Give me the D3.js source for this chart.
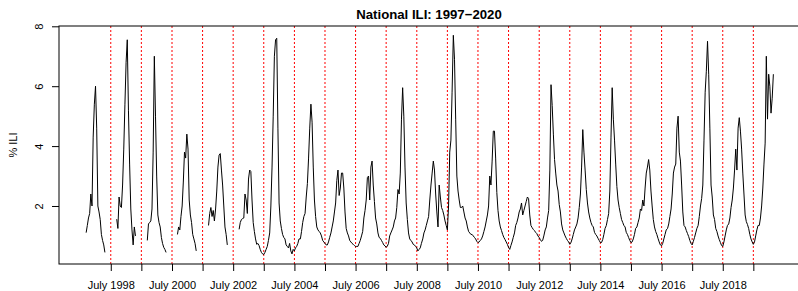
<!DOCTYPE html>
<html>
<head>
<meta charset="utf-8">
<script src="https://cdn.jsdelivr.net/npm/d3@7"></script>
<style>
  html, body { margin: 0; padding: 0; background: #fff; }
  svg { display: block; font-family: "Liberation Sans", Arial, Helvetica, sans-serif; }
</style>
</head>
<body>
<div id="chart"></div>
<script>
// Early seasons (through 2001-02) only cover the flu season, so they are
// drawn as separate pieces; from 2002-03 the series runs year round.
const seasons = ["1997-98", "1998-99", "1999-00", "2000-01", "2001-02", "2002-03",
  "2003-04", "2004-05", "2005-06", "2006-07", "2007-08", "2008-09", "2009-10",
  "2010-11", "2011-12", "2012-13", "2013-14", "2014-15", "2015-16", "2016-17",
  "2017-18", "2018-19", "2019-20"];
const seasonStart = ["1997-09-10", "1998-09-10", "1999-09-10", "2000-09-04", "2001-09-10",
  "2002-09-10", "2003-09-10", "2004-09-10", "2005-09-10", "2006-09-10", "2007-09-10",
  "2008-09-10", "2009-09-10", "2010-09-10", "2011-09-10", "2012-09-10", "2013-09-10",
  "2014-09-10", "2015-09-10", "2016-09-10", "2017-09-10", "2018-09-10", "2019-09-10"];
const firstYearRound = "2002-03";

const ili_1997_98 = [1.11, 1.35, 1.6, 1.75, 2.4, 2.0, 4.3, 5.4, 6.0, 4.6, 2.0, 1.8, 1.55, 1.05, 0.85, 0.7, 0.45];
const ili_1998_99 = [1.56, 1.25, 2.3, 2.0, 1.95, 2.7, 3.9, 5.4, 6.8, 7.55, 5.2, 3.4, 1.9, 1.2, 0.7, 1.3, 1.0];
const ili_1999_00 = [0.85, 1.4, 1.45, 1.5, 1.9, 3.8, 7.0, 5.0, 3.0, 1.7, 1.45, 1.3, 0.95, 0.75, 0.62, 0.55, 0.45];
const ili_2000_01 = [1.05, 1.3, 1.2, 1.65, 2.0, 2.8, 3.8, 3.6, 4.4, 3.9, 2.2, 1.7, 1.45, 1.05, 0.9, 0.75, 0.5];
const ili_2001_02 = [1.35, 1.75, 1.95, 1.65, 1.85, 1.5, 1.9, 2.5, 3.3, 3.7, 3.75, 3.2, 2.7, 2.0, 1.3, 1.05, 0.7];
const ili_2002_03 = [1.22, 1.45, 1.55, 1.58, 1.6, 2.4, 2.2, 1.75, 2.9, 3.2, 3.15, 2.2, 1.45, 1.15, 0.9, 0.72, 0.75, 0.68, 0.55, 0.45, 0.4, 0.38, 0.45, 0.55, 0.65, 0.85];
const ili_2003_04 = [1.1, 2.0, 3.3, 5.0, 7.0, 7.55, 7.6, 4.6, 2.1, 1.5, 1.25, 1.05, 0.95, 0.9, 0.7, 0.65, 0.6, 0.75, 0.5, 0.4, 0.55, 0.5, 0.6, 0.65, 0.75, 0.9];
const ili_2004_05 = [0.9, 1.15, 1.45, 1.65, 1.75, 2.3, 2.75, 3.6, 4.6, 5.4, 4.8, 3.3, 2.2, 1.65, 1.3, 1.2, 1.15, 1.1, 1.0, 0.85, 0.8, 0.75, 0.7, 0.7, 0.8, 0.95];
const ili_2005_06 = [1.1, 1.3, 1.5, 1.8, 2.1, 2.85, 3.2, 2.35, 2.6, 3.1, 3.1, 2.6, 1.8, 1.25, 1.1, 1.0, 0.85, 0.8, 0.75, 0.72, 0.68, 0.65, 0.65, 0.65, 0.75, 0.85];
const ili_2006_07 = [1.0, 1.15, 1.6, 1.85, 2.2, 2.95, 3.0, 2.2, 3.3, 3.5, 2.7, 2.15, 1.6, 1.4, 1.1, 0.95, 0.92, 0.85, 0.78, 0.7, 0.67, 0.62, 0.66, 0.75, 1.0, 1.1];
const ili_2007_08 = [1.2, 1.3, 1.5, 1.6, 1.95, 2.55, 2.4, 3.1, 4.9, 5.95, 5.0, 3.3, 2.1, 1.55, 1.1, 0.9, 0.85, 0.8, 0.72, 0.7, 0.65, 0.6, 0.5, 0.55, 0.6, 0.75];
const ili_2008_09 = [0.9, 1.1, 1.2, 1.35, 1.5, 1.65, 2.2, 2.7, 3.1, 3.5, 3.2, 2.4, 1.8, 1.3, 2.7, 2.3, 1.95, 1.85, 1.7, 1.5, 1.35, 1.2, 2.0, 3.8, 4.2, 5.8];
const ili_2009_10 = [7.7, 6.9, 4.9, 3.0, 2.5, 2.2, 1.95, 1.95, 2.0, 1.8, 1.6, 1.5, 1.3, 1.15, 1.1, 1.05, 1.05, 1.0, 0.95, 0.9, 0.82, 0.78, 0.8, 0.85, 0.9, 1.0];
const ili_2010_11 = [1.15, 1.3, 1.5, 1.7, 2.0, 3.0, 2.7, 3.5, 4.5, 4.5, 3.6, 2.45, 1.85, 1.5, 1.3, 1.18, 1.05, 0.95, 0.88, 0.8, 0.72, 0.62, 0.55, 0.68, 0.8, 0.95];
const ili_2011_12 = [1.1, 1.35, 1.45, 1.6, 1.8, 1.9, 2.1, 1.7, 1.85, 2.0, 2.15, 2.3, 2.25, 1.7, 1.35, 1.28, 1.22, 1.18, 1.12, 1.08, 1.0, 0.95, 0.88, 0.82, 0.85, 1.0];
const ili_2012_13 = [1.2, 1.3, 1.6, 1.85, 3.2, 6.05, 5.35, 4.4, 3.55, 3.1, 2.7, 2.5, 2.05, 1.8, 1.4, 1.2, 1.1, 1.0, 0.92, 0.85, 0.8, 0.72, 0.78, 0.9, 1.05, 1.2];
const ili_2013_14 = [1.3, 1.4, 1.6, 1.95, 2.4, 3.3, 4.55, 3.8, 3.2, 2.55, 2.1, 1.8, 1.6, 1.45, 1.35, 1.3, 1.12, 1.05, 1.0, 0.92, 0.85, 0.78, 0.78, 0.88, 1.05, 1.25];
const ili_2014_15 = [1.35, 1.55, 1.75, 2.5, 4.3, 5.95, 4.9, 4.2, 3.4, 2.65, 2.2, 1.95, 1.75, 1.55, 1.45, 1.35, 1.3, 1.12, 1.05, 0.95, 0.85, 0.78, 0.8, 0.9, 1.05, 1.25];
const ili_2015_16 = [1.3, 1.45, 1.6, 1.9, 1.85, 2.2, 2.0, 2.6, 3.1, 3.3, 3.55, 3.2, 2.5, 2.0, 1.55, 1.3, 1.15, 1.05, 0.92, 0.8, 0.7, 0.67, 0.75, 0.9, 1.05, 1.2];
const ili_2016_17 = [1.25, 1.4, 1.65, 1.9, 2.4, 3.1, 3.3, 3.4, 4.6, 5.0, 3.8, 3.5, 2.7, 1.8, 1.35, 1.3, 1.18, 1.08, 0.98, 0.85, 0.75, 0.7, 0.82, 0.95, 1.1, 1.25];
const ili_2017_18 = [1.35, 1.65, 2.0, 2.25, 2.7, 4.2, 5.8, 6.5, 7.5, 6.4, 4.6, 2.7, 2.3, 1.7, 1.55, 1.25, 1.15, 1.0, 0.88, 0.78, 0.68, 0.65, 0.8, 1.0, 1.2, 1.35];
const ili_2018_19 = [1.4, 1.6, 1.95, 2.2, 2.6, 3.2, 3.9, 3.2, 4.6, 4.95, 4.5, 3.9, 3.1, 2.4, 1.7, 1.48, 1.38, 1.25, 1.05, 0.9, 0.8, 0.72, 0.8, 1.0, 1.2, 1.35];
const ili_2019_20 = [1.35, 1.6, 2.0, 2.6, 3.4, 4.1, 7.0, 4.9, 6.4, 6.0, 5.1, 5.6, 6.4];

const seasonValues = [ili_1997_98, ili_1998_99, ili_1999_00, ili_2000_01, ili_2001_02,
  ili_2002_03, ili_2003_04, ili_2004_05, ili_2005_06, ili_2006_07, ili_2007_08,
  ili_2008_09, ili_2009_10, ili_2010_11, ili_2011_12, ili_2012_13, ili_2013_14,
  ili_2014_15, ili_2015_16, ili_2016_17, ili_2017_18, ili_2018_19, ili_2019_20];

// reference lines every July; only every other one gets a label
const julyYears = [1998, 1999, 2000, 2001, 2002, 2003, 2004, 2005, 2006, 2007, 2008,
  2009, 2010, 2011, 2012, 2013, 2014, 2015, 2016, 2017, 2018, 2019];
const labelledYears = [1998, 2000, 2002, 2004, 2006, 2008, 2010, 2012, 2014, 2016, 2018];
const yTicks = [2, 4, 6, 8];

const titleText = "National ILI: 1997\u22122020";
const yTitle = "% ILI";

// ── Layout ──
const W = 798, H = 291;
const M = { left: 59, right: 799, top: 26, bottom: 264 };

const parse = d3.timeParse("%Y-%m-%d");

const x = d3.scaleTime()
  .domain([new Date(1996, 9, 21), new Date(2020, 11, 27)])
  .range([M.left, M.right]);
const y = d3.scaleLinear()
  .domain([0.063, 8.01])
  .range([M.bottom, M.top]);

const svg = d3.select("#chart").append("svg")
  .attr("width", W)
  .attr("height", H);

// ── Build line pieces ──
const yearRoundIdx = seasons.indexOf(firstYearRound);
const pieces = [];
let yearRound = [];
seasons.forEach((s, i) => {
  const start = parse(seasonStart[i]);
  const pts = seasonValues[i].map((v, k) => ({ date: d3.timeDay.offset(start, 14 * k), value: v }));
  if (i < yearRoundIdx) pieces.push(pts);
  else yearRound = yearRound.concat(pts);
});
pieces.push(yearRound);

// clip to plot box
svg.append("clipPath").attr("id", "plotclip")
  .append("rect")
  .attr("x", M.left).attr("y", M.top)
  .attr("width", M.right - M.left).attr("height", M.bottom - M.top);

const plotG = svg.append("g").attr("clip-path", "url(#plotclip)");

// July reference lines
plotG.selectAll("line.july")
  .data(julyYears)
  .join("line")
  .attr("class", "july")
  .attr("x1", d => x(new Date(d, 6, 1)))
  .attr("x2", d => x(new Date(d, 6, 1)))
  .attr("y1", M.top)
  .attr("y2", M.bottom)
  .attr("stroke", "#ff0000")
  .attr("stroke-width", 1)
  .attr("stroke-dasharray", "2,2");

const line = d3.line()
  .x(d => x(d.date))
  .y(d => y(d.value));

plotG.selectAll("path.ili")
  .data(pieces)
  .join("path")
  .attr("class", "ili")
  .attr("d", line)
  .attr("fill", "none")
  .attr("stroke", "#000")
  .attr("stroke-width", 1)
  .attr("stroke-linejoin", "round");

// ── Axes ──
const xAxis = d3.axisBottom(x)
  .tickValues(julyYears.map(yr => new Date(yr, 6, 1)))
  .tickSize(7)
  .tickFormat(d => labelledYears.includes(d.getFullYear()) ? "July " + d.getFullYear() : "");

const gx = svg.append("g")
  .attr("transform", `translate(0,${M.bottom})`)
  .call(xAxis);
gx.select(".domain").remove();
gx.selectAll("text")
  .attr("y", 25).attr("dy", 0)
  .attr("fill", "#000")
  .style("font-size", "11px");

const yAxis = d3.axisLeft(y)
  .tickValues(yTicks)
  .tickSize(7);

const gy = svg.append("g")
  .attr("transform", `translate(${M.left},0)`)
  .call(yAxis);
gy.select(".domain").remove();
gy.selectAll("text")
  .attr("x", null).attr("dy", null)
  .attr("text-anchor", "middle")
  .attr("transform", "translate(-16,0) rotate(-90)")
  .attr("fill", "#000")
  .style("font-size", "11px");

// plot box
svg.append("rect")
  .attr("x", M.left).attr("y", M.top)
  .attr("width", M.right - M.left).attr("height", M.bottom - M.top)
  .attr("fill", "none")
  .attr("stroke", "#000")
  .attr("stroke-width", 1);

// ── Titles ──
svg.append("text")
  .attr("x", (M.left + M.right) / 2)
  .attr("y", 18.5)
  .attr("text-anchor", "middle")
  .style("font-size", "13.2px")
  .style("font-weight", "bold")
  .text(titleText);

svg.append("text")
  .attr("transform", `translate(17,${(M.top + M.bottom) / 2}) rotate(-90)`)
  .attr("text-anchor", "middle")
  .style("font-size", "11px")
  .text(yTitle);
</script>
</body>
</html>
